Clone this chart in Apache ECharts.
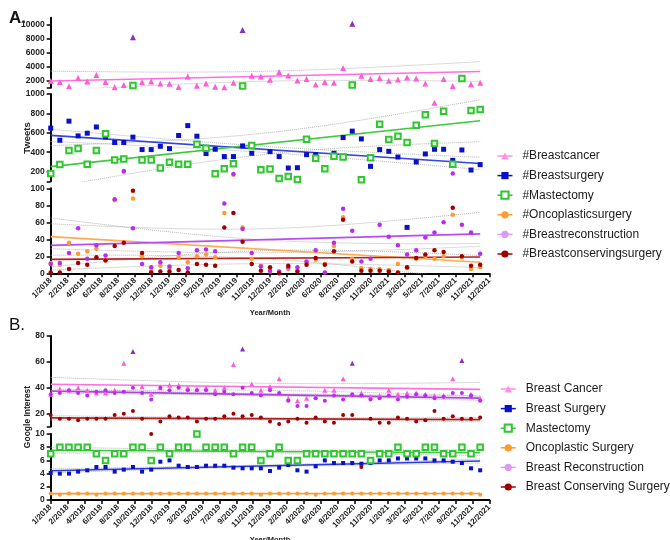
<!DOCTYPE html>
<html>
<head>
<meta charset="utf-8">
<script src="https://cdn.jsdelivr.net/npm/echarts@6/dist/echarts.min.js"></script>
<style>
  html, body { margin: 0; padding: 0; background: #fff; }
  #chart { width: 670px; height: 540px; }
</style>
</head>
<body>
<div id="chart"></div>
<script>
// Tick labels along the month axis (27 evenly spaced ticks)
const xLabels = ['1/2018','2/2018','4/2018','6/2018','8/2018','10/2018','12/2018','1/2019','3/2019',
  '5/2019','7/2019','9/2019','11/2019','12/2019','2/2020','4/2020','6/2020','8/2020','10/2020',
  '11/2020','1/2021','3/2021','5/2021','7/2021','9/2021','11/2021','12/2021'];

// A. Monthly tweet counts, Jan 2018 - Dec 2021
// (Oct 2021 #Breastcancer lies above the top of the axis: it enters the fit but is not drawn)
const breastcancerTweets = [1950,1800,1200,2370,1900,2800,1800,1050,1370,8190,1800,1900,1610,1570,1090,2610,
  1290,1610,1140,1050,1710,9230,2710,2610,2140,3230,2760,2040,2230,1470,1800,1710,
  3800,10140,2710,2230,2370,2000,2180,2470,2330,1610,910,2230,1230,13400,1510,1700];
const breastsurgeryTweets = [648,523,720,568,596,660,558,500,500,555,427,427,461,437,572,674,
  565,386,430,355,355,465,389,230,406,355,237,240,375,375,223,389,
  551,617,537,254,427,409,350,54,299,382,430,430,316,423,216,272];
const mastectomyTweets = [181,272,417,437,275,417,589,320,330,1330,320,320,237,296,275,275,
  482,441,178,230,282,1230,468,220,226,130,150,119,534,337,230,358,
  350,1370,116,344,689,530,565,500,679,786,489,821,275,2330,830,840];
const oncoplasticTweets = [12,10,36,23,26,29,16,86,195,88,20,3,9,6,19,13,
  20,22,19,71,168,54,17,9,2,1,5,4,12,16,11,32,
  66,17,6,5,5,4,11,6,17,20,17,20,69,19,5,7];
const breastreconstructionTweets = [11,12,24,53,17,33,21,87,205,53,11,7,13,8,24,6,
  27,28,26,82,175,52,24,8,3,2,7,7,14,27,1,36,
  76,50,14,17,57,43,33,22,27,42,48,60,180,57,48,23];
const breastconservingTweets = [1,1,5,12,10,19,15,32,36,97,24,1,2,2,4,1,
  11,10,9,54,71,37,11,3,7,0,9,2,10,18,10,26,
  63,14,3,3,3,2,1,7,18,22,27,25,77,20,9,10];
// Months whose #Breastcancer marker is drawn in the darker violet
const breastcancerTweetsDark = [9,21,33,45];

// B. Google search interest, Jan 2018 - Dec 2021
const breastCancerSearch = [35,39,38,40,38,36,36,38,59,68,41,35,40,42,42,40,
  39,40,38,40,58,70,43,38,41,47,32,30,32,33,38,38,
  47,59,36,33,34,38,35,36,36,35,34,34,47,61,35,32];
const breastSurgerySearch = [4.1,4.0,4.0,4.3,4.5,5.0,5.0,4.3,4.6,5.0,4.3,4.6,5.8,6.0,5.2,5.0,
  5.0,5.2,5.2,5.2,4.9,4.8,4.8,4.8,4.4,4.9,5.3,4.5,4.3,5.1,6.0,5.6,
  5.6,5.6,5.5,5.6,6.0,6.0,6.3,6.3,6.3,6.3,6.0,6.0,5.8,5.6,4.8,4.5];
const mastectomySearch = [7,8,8,8,8,7,6,7,7,8,8,6,8,7,8,8,
  10,8,8,8,7,8,8,6,7,8,6,6,7,7,7,7,
  7,7,7,6,7,7,8,7,7,8,8,7,7,8,7,8];
const oncoplasticSearch = [1,0.8,1,1,1,0.8,1,1,1,1,1,1,1,1,1,1,
  1,1,1,1,1,1,1,0.8,1,1,1,1,1,0.8,1,1,
  1,1,1,1,1,1,1,1,1,1,1,1,1,1,1,0.8];
const breastReconstructionSearch = [35,36,38,36,34,37,38,36,37,40,36,31,40,38,40,38,
  38,38,35,37,35,40,36,34,38,36,30,26,26,32,30,34,
  31,35,34,31,32,34,31,33,35,34,32,33,36,36,34,30];
const breastConservingSearch = [19,16,16,15,16,16,16,19,20,22,16,10,14,18,17,17,
  14,16,16,18,20,18,19,17,14,12,14,16,13,17,14,13,
  19,19,5,16,13,13,17,16,14,15,22,16,18,16,16,17];
const breastCancerSearchDark = [9,21,33,45];

const FONT = 'Arial, "Liberation Sans", Helvetica, sans-serif';
const TICK_PER_MONTH = 26 / 48;   // month index -> tick units on the x axis
const DARK_VIOLET = '#8E2BC6';

// Ordinary least squares fit with a 95% confidence band for the mean
function linearFit(values) {
  const n = values.length;
  let sx = 0, sy = 0;
  values.forEach((v, i) => { sx += i; sy += v; });
  const mx = sx / n, my = sy / n;
  let sxx = 0, sxy = 0;
  values.forEach((v, i) => { sxx += (i - mx) * (i - mx); sxy += (i - mx) * (v - my); });
  const slope = sxy / sxx, icpt = my - slope * mx;
  let sse = 0;
  values.forEach((v, i) => { const r = v - (icpt + slope * i); sse += r * r; });
  const se = Math.sqrt(sse / (n - 2));
  const t = 2.013;
  const line = [], upper = [], lower = [];
  for (let k = 0; k <= 4 * (n - 1); k++) {
    const x = k / 4;
    const yhat = icpt + slope * x;
    const h = t * se * Math.sqrt(1 / n + (x - mx) * (x - mx) / sxx);
    line.push([x * TICK_PER_MONTH, yhat]);
    upper.push([x * TICK_PER_MONTH, yhat + h]);
    lower.push([x * TICK_PER_MONTH, yhat - h]);
  }
  return { line, upper, lower, mid: my };
}

const tweetSeries = [
  { name: '#Breastcancer', values: breastcancerTweets, symbol: 'triangle', size: 6, color: '#FF5CD8', fit: '#FF6FDE', legend: '#FF8FE6', dark: breastcancerTweetsDark },
  { name: '#Breastsurgery', values: breastsurgeryTweets, symbol: 'rect', size: 5, color: '#0A10C8', fit: '#3545E0' },
  { name: '#Mastectomy', values: mastectomyTweets, symbol: 'emptyRect', size: 5.5, color: '#2EC82E', fit: '#3CCB3C' },
  { name: '#Oncoplasticsurgery', values: oncoplasticTweets, symbol: 'circle', size: 4.5, color: '#FF9A2E', fit: '#FFAA55' },
  { name: '#Breastreconstruction', values: breastreconstructionTweets, symbol: 'circle', size: 4.5, color: '#B52EF0', fit: '#B84CF0', legend: '#DA9BF5' },
  { name: '#Breastconservingsurgery', values: breastconservingTweets, symbol: 'circle', size: 4.5, color: '#A00000', fit: '#B52020' }
];
const searchSeries = [
  { name: 'Breast Cancer', values: breastCancerSearch, symbol: 'triangle', size: 5, color: '#FF5CD8', fit: '#FF6FDE', legend: '#FF8FE6', dark: breastCancerSearchDark },
  { name: 'Breast Surgery', values: breastSurgerySearch, symbol: 'rect', size: 4, color: '#0A10C8', fit: '#2A3AD8' },
  { name: 'Mastectomy', values: mastectomySearch, symbol: 'emptyRect', size: 5.5, color: '#2EC82E', fit: '#3CCB3C' },
  { name: 'Oncoplastic Surgery', values: oncoplasticSearch, symbol: 'circle', size: 4, color: '#FF9A2E', fit: '#FF9A30' },
  { name: 'Breast Reconstruction', values: breastReconstructionSearch, symbol: 'circle', size: 4, color: '#B52EF0', fit: '#B040E8', legend: '#DA9BF5' },
  { name: 'Breast Conserving Surgery', values: breastConservingSearch, symbol: 'circle', size: 4, color: '#A00000', fit: '#B02020' }
];

// Broken value axes: each panel is a stack of grids sharing the month axis
const gridDefs = [
  { top: 17.7, height: 70, min: 1000, max: 11000, ticks: [1000,2000,4000,6000,8000,10000], labels: [2000,4000,6000,8000,10000], panel: 0, lo: 1000, hi: 11000 },
  { top: 94, height: 87.3, min: 100, max: 1000, ticks: [100,200,400,600,800,1000], labels: [200,400,600,800,1000], panel: 0, lo: 100, hi: 1000 },
  { top: 188.3, height: 85, min: 0, max: 100, ticks: [0,20,40,60,80,100], labels: [0,20,40,60,80,100], panel: 0, lo: -Infinity, hi: 100, bottom: true },
  { top: 336, height: 90.6, min: 10, max: 80, ticks: [10,20,40,60,80], labels: [20,40,60,80], panel: 1, lo: 10, hi: 80 },
  { top: 434, height: 66, min: 0, max: 10, ticks: [0,2,4,6,8,10], labels: [0,2,4,6,8,10], panel: 1, lo: -Infinity, hi: 10, bottom: true }
];

const grids = gridDefs.map(g => ({ left: 50.7, width: 438.6, top: g.top, height: g.height, outerBoundsMode: 'none' }));

const xAxes = gridDefs.map((g, gi) => ({
  type: 'value', gridIndex: gi, min: 0, max: 26, interval: 1,
  show: !!g.bottom,
  axisLine: { onZero: false, lineStyle: { color: '#000', width: 2 } },
  axisTick: { length: 4, lineStyle: { color: '#000', width: 1.5 } },
  axisLabel: {
    rotate: 45, fontSize: 8, fontWeight: 'bold', color: '#222', margin: 6, fontFamily: FONT,
    formatter: v => xLabels[Math.round(v)] || ''
  },
  splitLine: { show: false },
  name: 'Year/Month', nameLocation: 'middle', nameGap: 36,
  nameTextStyle: { fontSize: 7.5, fontWeight: 'bold', color: '#222', fontFamily: FONT }
}));

const yAxes = gridDefs.map((g, gi) => ({
  type: 'value', gridIndex: gi, min: g.min, max: g.max,
  axisLine: { show: true, lineStyle: { color: '#000', width: 2 } },
  axisTick: { show: true, length: 4, customValues: g.ticks, lineStyle: { color: '#000', width: 1.5 } },
  axisLabel: { customValues: g.labels, formatter: v => String(v), fontSize: 8.5, fontWeight: 'bold', color: '#222', margin: 6, fontFamily: FONT },
  splitLine: { show: false }
}));

const series = [];

function addPanel(defs, panel) {
  // marker series first so legend entries take their icon from them
  gridDefs.forEach((g, gi) => {
    if (g.panel !== panel) return;
    defs.forEach(d => {
      const pts = [];
      d.values.forEach((v, i) => {
        if (v > g.lo && v <= g.hi) {
          const item = { value: [i * TICK_PER_MONTH, v] };
          if (d.dark && d.dark.indexOf(i) >= 0) item.itemStyle = { color: DARK_VIOLET };
          pts.push(item);
        }
      });
      series.push({
        type: 'line', name: d.name, xAxisIndex: gi, yAxisIndex: gi,
        data: pts, symbol: d.symbol, symbolSize: d.size, showSymbol: true, showAllSymbol: true,
        clip: false, z: 4,
        itemStyle: { color: d.color, borderWidth: d.symbol === 'emptyRect' ? 1.6 : 0 },
        lineStyle: { color: d.color, width: 1.5, opacity: 0 },
        emphasis: { disabled: true }, silent: true
      });
    });
  });
  // regression line and its confidence band, drawn in the segment that holds the fit
  defs.forEach(d => {
    const f = linearFit(d.values);
    gridDefs.forEach((g, gi) => {
      if (g.panel !== panel) return;
      if (!(f.mid > g.lo && f.mid <= g.hi)) return;
      ['upper', 'lower'].forEach(k => {
        series.push({
          type: 'line', name: d.name + ' band ' + k, xAxisIndex: gi, yAxisIndex: gi,
          data: f[k], showSymbol: false, symbol: 'none', clip: true, z: 2,
          lineStyle: { color: '#a8a8a8', width: 1, type: 'dotted', opacity: 0.85 },
          emphasis: { disabled: true }, silent: true
        });
      });
      series.push({
        type: 'line', name: d.name + ' fit', xAxisIndex: gi, yAxisIndex: gi,
        data: [f.line[0], f.line[f.line.length - 1]], showSymbol: false, symbol: 'none', clip: true, z: 3,
        lineStyle: { color: d.fit, width: 1.6 },
        emphasis: { disabled: true }, silent: true
      });
    });
  });
}
addPanel(tweetSeries, 0);
addPanel(searchSeries, 1);

function legendFor(defs, left, top) {
  return {
    orient: 'vertical', left: left, top: top, padding: 0,
    itemWidth: 15, itemHeight: 9, itemGap: 5.6,
    selectedMode: false,
    lineStyle: { width: 1.5, opacity: 1 },
    textStyle: { fontSize: 12, color: '#1a1a1a', fontFamily: FONT, lineHeight: 14, padding: [0, 0, 0, 5] },
    data: defs.map(d => d.legend
      ? { name: d.name, itemStyle: { color: d.legend }, lineStyle: { color: d.legend } }
      : { name: d.name })
  };
}

const option = {
  animation: false,
  backgroundColor: '#fff',
  textStyle: { fontFamily: FONT },
  grid: grids,
  xAxis: xAxes,
  yAxis: yAxes,
  legend: [legendFor(tweetSeries, 496.7, 149), legendFor(searchSeries, 500, 382)],
  graphic: [
    { type: 'text', left: 9, top: 10, style: { text: 'A.', fontSize: 17, fontWeight: 'bold', fill: '#111', fontFamily: FONT } },
    { type: 'text', left: 9, top: 317, style: { text: 'B.', fontSize: 17, fill: '#111', fontFamily: FONT } },
    { type: 'text', x: 27, y: 138, rotation: Math.PI / 2,
      style: { text: 'Tweets', fontSize: 9.5, fontWeight: 'bold', fill: '#222', align: 'center', verticalAlign: 'middle', fontFamily: FONT } },
    { type: 'text', x: 28, y: 417, rotation: Math.PI / 2,
      style: { text: 'Google Interest', fontSize: 8.5, fontWeight: 'bold', fill: '#222', align: 'center', verticalAlign: 'middle', fontFamily: FONT } }
  ],
  series: series
};

const chart = echarts.init(document.getElementById('chart'), null, { renderer: 'canvas' });
chart.setOption(option);
</script>
</body>
</html>
